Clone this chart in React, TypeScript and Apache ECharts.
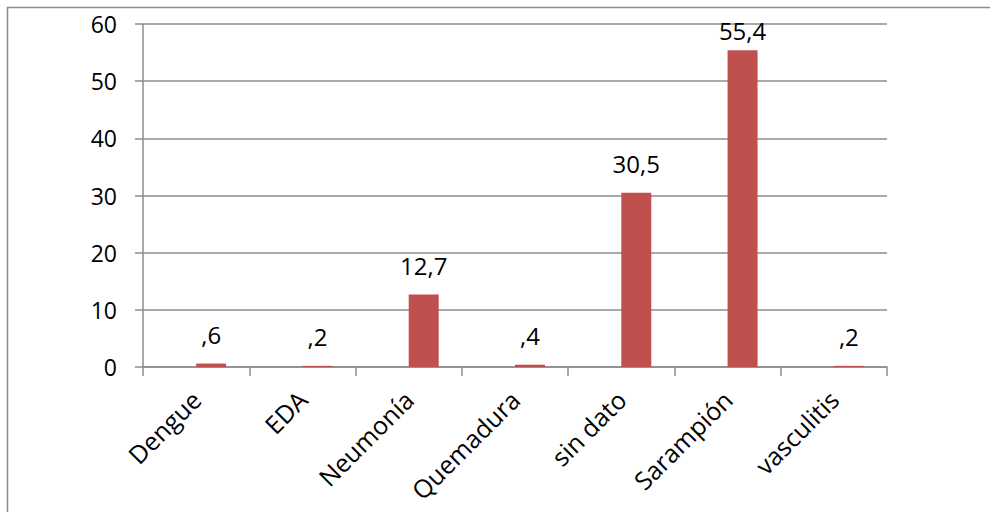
import React, { useEffect, useRef } from "react";
import * as echarts from "echarts";

const categories = ["Dengue", "EDA", "Neumonía", "Quemadura", "sin dato", "Sarampión", "vasculitis"];
const values = [0.6, 0.2, 12.7, 0.4, 30.5, 55.4, 0.2];
const labels = [",6", ",2", "12,7", ",4", "30,5", "55,4", ",2"];
const yTicks = [0, 10, 20, 30, 40, 50, 60];

const FONT = "'Open Sans', 'Noto Sans', sans-serif";

export default function App() {
  const ref = useRef<HTMLDivElement>(null);
  useEffect(() => {
    if (!ref.current) return;
    const chart = echarts.init(ref.current, null, { renderer: "svg" });
    const maxVal = Math.max(...values);
    chart.setOption({
      animation: false,
      backgroundColor: "#ffffff",
      grid: { left: 143, right: 103, top: 24, bottom: 145 },
      graphic: [
        {
          type: "rect",
          shape: { x: 7.5, y: 7.5, width: 1200, height: 800 },
          style: { fill: "none", stroke: "#8c8c8c", lineWidth: 1.5 },
          silent: true,
        },
      ],
      xAxis: {
        type: "category",
        data: categories,
        axisLine: { lineStyle: { color: "#8c8c8c", width: 1.5 } },
        axisTick: { show: true, length: 9, lineStyle: { color: "#8c8c8c", width: 1.5 } },
        axisLabel: {
          rotate: 45,
          color: "#000",
          fontSize: 25,
          fontFamily: FONT,
          margin: 28,
        },
      },
      yAxis: {
        type: "value",
        min: 0,
        max: 60,
        interval: 10,
        axisLine: { show: true, lineStyle: { color: "#8c8c8c", width: 1.5 } },
        axisTick: { show: true, length: 8, lineStyle: { color: "#8c8c8c", width: 1.5 } },
        splitLine: { lineStyle: { color: "#8c8c8c", width: 1.5 } },
        axisLabel: {
          color: "#000",
          fontSize: 23,
          fontFamily: FONT,
          margin: 26,
          formatter: (v: number) => (yTicks.includes(v) ? String(v) : ""),
        },
      },
      series: [
        {
          type: "bar",
          data: categories.map(() => null),
          barWidth: 30,
          barGap: "0%",
        },
        {
          type: "bar",
          data: values.map((v) =>
            v === maxVal ? { value: v, label: { distance: 8 } } : v
          ),
          barWidth: 30,
          barGap: "0%",
          itemStyle: { color: "#c0504d" },
          label: {
            show: true,
            position: "top",
            distance: 17,
            color: "#000",
            fontSize: 24,
            fontFamily: FONT,
            formatter: (p: any) => labels[p.dataIndex],
          },
        },
      ],
    });
    return () => chart.dispose();
  }, []);
  return <div ref={ref} style={{ width: 990, height: 512, position: "absolute", left: 0, top: 0 }} />;
}
